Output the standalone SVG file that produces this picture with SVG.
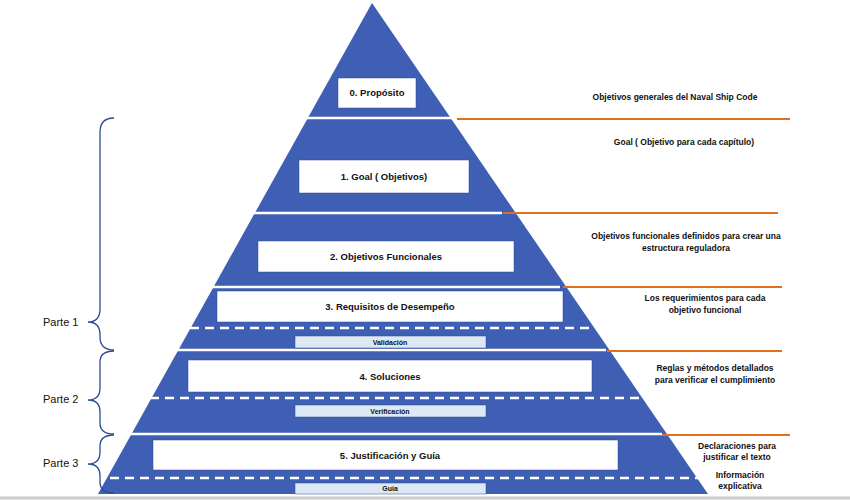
<svg xmlns="http://www.w3.org/2000/svg" width="850" height="500" viewBox="0 0 850 500">
<style>
text{font-family:"Liberation Sans",Arial,sans-serif;font-weight:bold;fill:#111}
.lv{font-size:9.5px;text-anchor:middle}
.sm{font-size:7px;text-anchor:middle}
.r{font-size:8.5px;text-anchor:middle}
.p{font-size:11px;font-weight:normal}
.box{fill:#fff;stroke:#2a4a90;stroke-width:0.5}
.lb{fill:#dce9f4;stroke:#2a4a90;stroke-width:0.5}
.sep{stroke:#fff;stroke-width:2.5}
.dash{stroke:#fff;stroke-width:2.5;stroke-dasharray:9,6}
.or{stroke:#e07020;stroke-width:2}
.br{fill:none;stroke:#2a4a90;stroke-width:1.3}
</style>
<rect width="850" height="500" fill="#fff"/>
<line x1="0" y1="498" x2="850" y2="498" stroke="#ccc" stroke-width="3"/>
<polygon id="pyramid" points="372,3 708,494 98,494" fill="#3f5fb5"/>
<g id="separators">
<line class="sep" x1="300" y1="118" x2="455" y2="118"/>
<line class="sep" x1="200" y1="213" x2="502" y2="213"/>
<line class="sep" x1="160" y1="287" x2="560" y2="287"/>
<line class="dash" x1="190" y1="328" x2="590" y2="328"/>
<line class="sep" x1="120" y1="350" x2="606" y2="350"/>
<line class="dash" x1="150" y1="398" x2="640" y2="398"/>
<line class="sep" x1="100" y1="434" x2="662" y2="434"/>
<line class="dash" x1="110" y1="478" x2="700" y2="478"/>
</g>
<g id="n0"><rect class="box" x="338" y="78" width="78" height="30"/><text class="lv" x="377" y="96">0. Propósito</text></g>
<g id="n1"><rect class="box" x="299" y="160" width="170" height="33"/><text class="lv" x="384" y="180">1. Goal ( Objetivos)</text></g>
<g id="n2"><rect class="box" x="258" y="241" width="256" height="31"/><text class="lv" x="386" y="260">2. Objetivos Funcionales</text></g>
<g id="n3"><rect class="box" x="217" y="291" width="346" height="31"/><text class="lv" x="390" y="310">3. Requisitos de Desempeño</text></g>
<g id="nv"><rect class="lb" x="295" y="336" width="191" height="12"/><text class="sm" x="390" y="345">Validación</text></g>
<g id="n4"><rect class="box" x="188" y="360" width="404" height="32"/><text class="lv" x="390" y="380">4. Soluciones</text></g>
<g id="nver"><rect class="lb" x="295" y="405" width="191" height="12"/><text class="sm" x="390" y="414">Verificación</text></g>
<g id="n5"><rect class="box" x="153" y="440" width="465" height="30"/><text class="lv" x="390" y="459">5. Justificación y Guía</text></g>
<g id="ng"><rect class="lb" x="295" y="483" width="191" height="11"/><text class="sm" x="390" y="491">Guía</text></g>
<g id="connectors">
<line class="or" x1="457" y1="119" x2="790" y2="119"/>
<line class="or" x1="503" y1="213" x2="778" y2="213"/>
<line class="or" x1="563" y1="287" x2="782" y2="287"/>
<line class="or" x1="607" y1="351" x2="782" y2="351"/>
<line class="or" x1="662" y1="435" x2="790" y2="435"/>
<path class="br" d="M114,118 Q100,118 100,132 L100,309 Q100,322 88,322 Q100,322 100,335 L100,337 Q100,350 114,350"/>
<path class="br" d="M114,351 Q100,351 100,362 L100,388 Q100,400 88,400 Q100,400 100,412 L100,423 Q100,434 114,434"/>
<path class="br" d="M114,435 Q100,435 100,446 L100,452 Q100,464 88,464 Q100,464 100,476 L100,482 Q100,493 114,493"/>
</g>
<g id="labels">
<text class="r" x="675" y="100">Objetivos generales del Naval Ship Code</text>
<text class="r" x="684" y="145">Goal ( Objetivo para cada capítulo)</text>
<text class="r" x="686" y="239">Objetivos funcionales definidos para crear una</text>
<text class="r" x="686" y="251">estructura reguladora</text>
<text class="r" x="705" y="301">Los requerimientos para cada</text>
<text class="r" x="705" y="313">objetivo funcional</text>
<text class="r" x="715" y="371">Reglas y métodos detallados</text>
<text class="r" x="715" y="383">para verificar el cumplimiento</text>
<text class="r" x="737" y="449">Declaraciones para</text>
<text class="r" x="737" y="460">justificar el texto</text>
<text class="r" x="740" y="478">Información</text>
<text class="r" x="740" y="489">explicativa</text>
<text class="p" x="43" y="326">Parte 1</text>
<text class="p" x="43" y="403">Parte 2</text>
<text class="p" x="43" y="467">Parte 3</text>
</g>
</svg>
